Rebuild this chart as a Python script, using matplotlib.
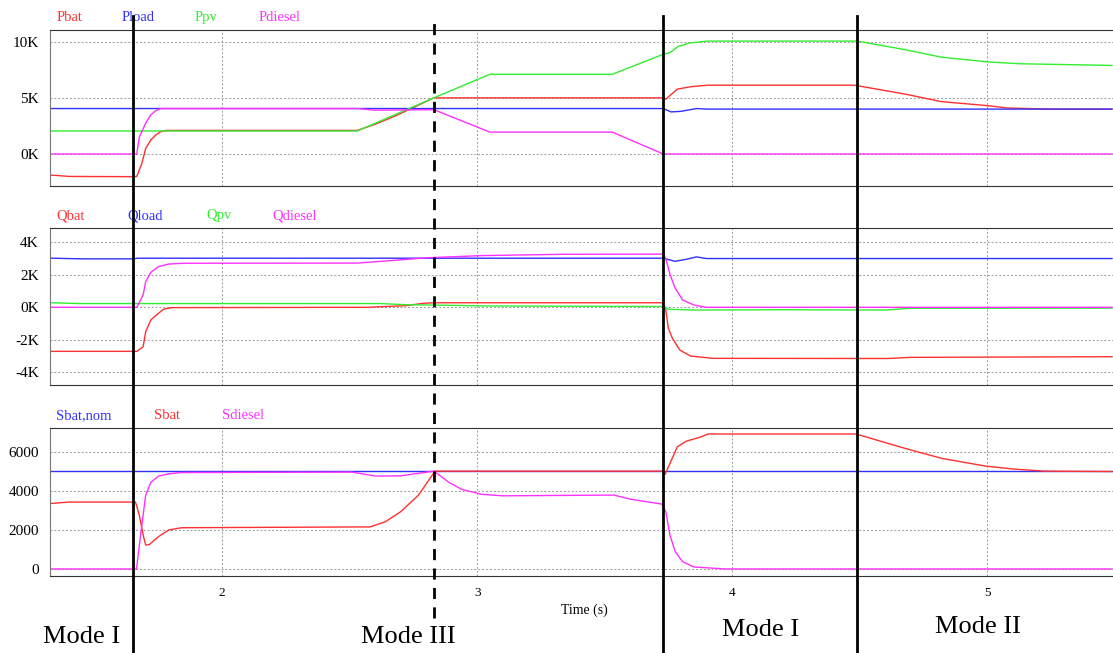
import matplotlib
matplotlib.use("Agg")
import matplotlib.pyplot as plt
from matplotlib.lines import Line2D
from matplotlib.ticker import FuncFormatter

plt.rcParams["font.family"] = ["Liberation Serif", "DejaVu Serif"]

RED, BLUE, GREEN, MAGENTA = "#ff3030", "#3030ff", "#30ee30", "#ff30ff"

# ---- panel 1: active power (W) ----
t_pbat = [1.33, 1.40, 1.64, 1.665, 1.685, 1.70, 1.72, 1.74, 1.76, 1.78, 2.53, 2.60, 2.68, 2.76, 2.83,
          3.73, 3.74, 3.785, 3.84, 3.906, 4.48, 4.68, 4.82, 5.0, 5.08, 5.24, 5.49]
pbat = [-1880, -2000, -2020, -2000, -830, 500, 1250, 1700, 2000, 2100, 2100, 2650, 3400, 4250, 5000,
        5000, 4880, 5780, 6000, 6130, 6130, 5330, 4670, 4310, 4100, 4000, 4000]
t_pload = [1.33, 3.73, 3.76, 3.80, 3.86, 3.90, 5.49]
pload = [4050, 4050, 3750, 3800, 4050, 4000, 4000]
t_ppv = [1.33, 2.53, 2.83, 3.05, 3.53, 3.725, 3.757, 3.79, 3.835, 3.906, 4.49, 4.68, 4.82, 5.0, 5.13, 5.49]
ppv = [2050, 2050, 5000, 7100, 7100, 8840, 9050, 9600, 9900, 10060, 10060, 9290, 8630, 8210, 8040, 7890]
t_pdiesel = [1.33, 1.665, 1.675, 1.70, 1.72, 1.74, 1.76, 2.53, 2.60, 2.83, 3.05, 3.53, 3.73, 3.74, 5.49]
pdiesel = [0, 0, 1500, 2740, 3480, 3870, 4050, 4050, 3900, 3950, 1950, 1950, 0, 0, 0]

# ---- panel 2: reactive power (var) ----
t_qbat = [1.33, 1.665, 1.69, 1.70, 1.72, 1.75, 1.77, 1.80, 2.57, 2.72, 2.79, 2.83,
          3.73, 3.74, 3.75, 3.766, 3.795, 3.837, 3.925, 4.61, 4.70, 5.49]
qbat = [-2710, -2710, -2420, -1500, -780, -370, -120, -20, 0, 100, 250, 280,
        280, -170, -1290, -1910, -2630, -3000, -3140, -3150, -3080, -3040]
t_qload = [1.33, 1.45, 1.65, 1.67, 3.73, 3.776, 3.82, 3.86, 3.90, 5.49]
qload = [3020, 2980, 2980, 3020, 3020, 2830, 2950, 3100, 3000, 3000]
t_qpv = [1.33, 1.44, 2.62, 2.72, 3.06, 3.73, 3.75, 3.85, 4.20, 4.60, 4.70, 5.49]
qpv = [280, 230, 230, 160, 80, 50, -120, -170, -150, -170, -60, -50]
t_qdiesel = [1.33, 1.665, 1.69, 1.70, 1.72, 1.75, 1.79, 1.85, 2.53, 2.81, 3.02, 3.33, 3.73,
             3.74, 3.757, 3.777, 3.806, 3.85, 3.90, 5.49]
qdiesel = [0, 0, 760, 1580, 2150, 2500, 2660, 2710, 2720, 3050, 3180, 3260, 3270,
           3000, 1990, 1170, 450, 140, 0, 0]

# ---- panel 3: apparent power (VA) ----
t_sbatnom = [1.33, 5.49]
sbatnom = [5000, 5000]
t_sbat = [1.33, 1.40, 1.66, 1.675, 1.69, 1.70, 1.715, 1.72, 1.75, 1.79, 1.84, 2.58, 2.64, 2.70, 2.77, 2.835,
          3.73, 3.737, 3.785, 3.82, 3.878, 3.906, 4.486, 4.68, 4.824, 4.996, 5.11, 5.225, 5.49]
sbat = [3350, 3420, 3420, 2755, 1735, 1224, 1250, 1310, 1650, 1990, 2108, 2150, 2415, 2925, 3776, 5000,
        5000, 4830, 6240, 6530, 6750, 6900, 6900, 6157, 5647, 5255, 5102, 5000, 4980]
t_sdiesel = [1.33, 1.664, 1.68, 1.69, 1.70, 1.72, 1.75, 1.79, 1.84, 2.51, 2.60, 2.70, 2.83, 2.89, 2.94,
             3.02, 3.10, 3.536, 3.60, 3.725, 3.74, 3.756, 3.777, 3.806, 3.85, 3.976, 5.49]
sdiesel = [0, 0, 1735, 2755, 3776, 4423, 4745, 4862, 4930, 4950, 4750, 4760, 5000, 4423, 4066,
           3811, 3740, 3776, 3571, 3316, 2925, 1735, 883, 372, 100, 0, 0]

# mode boundaries (s) and labels
mode_edges = [1.65, 2.83, 3.73, 4.49]
mode_styles = ["-", "--", "-", "-"]
mode_names = ["Mode I", "Mode III", "Mode I", "Mode II"]
mode_centers = [1.45, 2.73, 4.11, 4.965]
mode_y = [0.024, 0.024, 0.035, 0.04]

XLIM = (1.325, 5.494)


def kfmt(v, _):
    return f"{v / 1000:.0f}K"


def fig_x(ax, xv):
    xd = ax.transData.transform((xv, 0))[0]
    return fig.transFigure.inverted().transform((xd, 0))[0]


fig = plt.figure(figsize=(11.13, 6.53), dpi=100)
ax1 = fig.add_axes([0.045, 0.7152, 0.955, 0.2389])
ax2 = fig.add_axes([0.045, 0.4104, 0.955, 0.2400])
ax3 = fig.add_axes([0.045, 0.1179, 0.955, 0.2271])

panels = [
    (ax1, [(t_pbat, pbat, RED, "Pbat"), (t_pload, pload, BLUE, "Pload"),
           (t_ppv, ppv, GREEN, "Ppv"), (t_pdiesel, pdiesel, MAGENTA, "Pdiesel")],
     (-2850, 11050), [0, 5000, 10000], [0.0, 0.061, 0.13, 0.19]),
    (ax2, [(t_qbat, qbat, RED, "Qbat"), (t_qload, qload, BLUE, "Qload"),
           (t_qpv, qpv, GREEN, "Qpv"), (t_qdiesel, qdiesel, MAGENTA, "Qdiesel")],
     (-4780, 4860), [-4000, -2000, 0, 2000, 4000], [0.0, 0.067, 0.141, 0.203]),
    (ax3, [(t_sbatnom, sbatnom, BLUE, "Sbat,nom"), (t_sbat, sbat, RED, "Sbat"),
           (t_sdiesel, sdiesel, MAGENTA, "Sdiesel")],
     (-360, 7220), [0, 2000, 4000, 6000], [0.0, 0.092, 0.156]),
]

for ax, series, ylim, yticks, lab_x in panels:
    for (t, v, c, name), lx in zip(series, lab_x):
        ax.plot(t, v, color=c, lw=1.0)
        ax.text(lx + 0.006, 1.04, name, color=c, fontsize=10.5, transform=ax.transAxes,
                va="bottom", ha="left")
    ax.set_xlim(*XLIM)
    ax.set_ylim(*ylim)
    ax.set_yticks(yticks)
    ax.set_xticks([2, 3, 4, 5])
    ax.grid(True, color="#999999", ls=(0, (2, 2)), lw=0.7)
    ax.tick_params(length=0, labelsize=11, pad=8)
    ax.spines["right"].set_visible(False)
    ax.spines["top"].set_color("#333333")
    ax.spines["bottom"].set_color("#333333")
    ax.spines["left"].set_color("#777777")
    if ax is not ax3:
        ax.tick_params(labelbottom=False)
        ax.yaxis.set_major_formatter(FuncFormatter(kfmt))

ax3.tick_params(axis="x", labelsize=9.5, pad=8)
fig.text(0.525, 0.066, "Time (s)", fontsize=10, ha="center", va="center")

# mode boundary lines across all panels, placed through the data transform
fig.canvas.draw()
for xe, ls in zip(mode_edges, mode_styles):
    xf = fig_x(ax1, xe)
    y_end = 0.053 if ls == "--" else 0.0
    fig.add_artist(Line2D([xf, xf], [y_end, 0.975], color="black", lw=2.0,
                          ls="-" if ls == "-" else (0, (4, 3)), transform=fig.transFigure))

for name, xc, yf in zip(mode_names, mode_centers, mode_y):
    fig.text(fig_x(ax3, xc), yf, name, fontsize=19, ha="center", va="center")

fig.savefig("out.png", dpi=100)
